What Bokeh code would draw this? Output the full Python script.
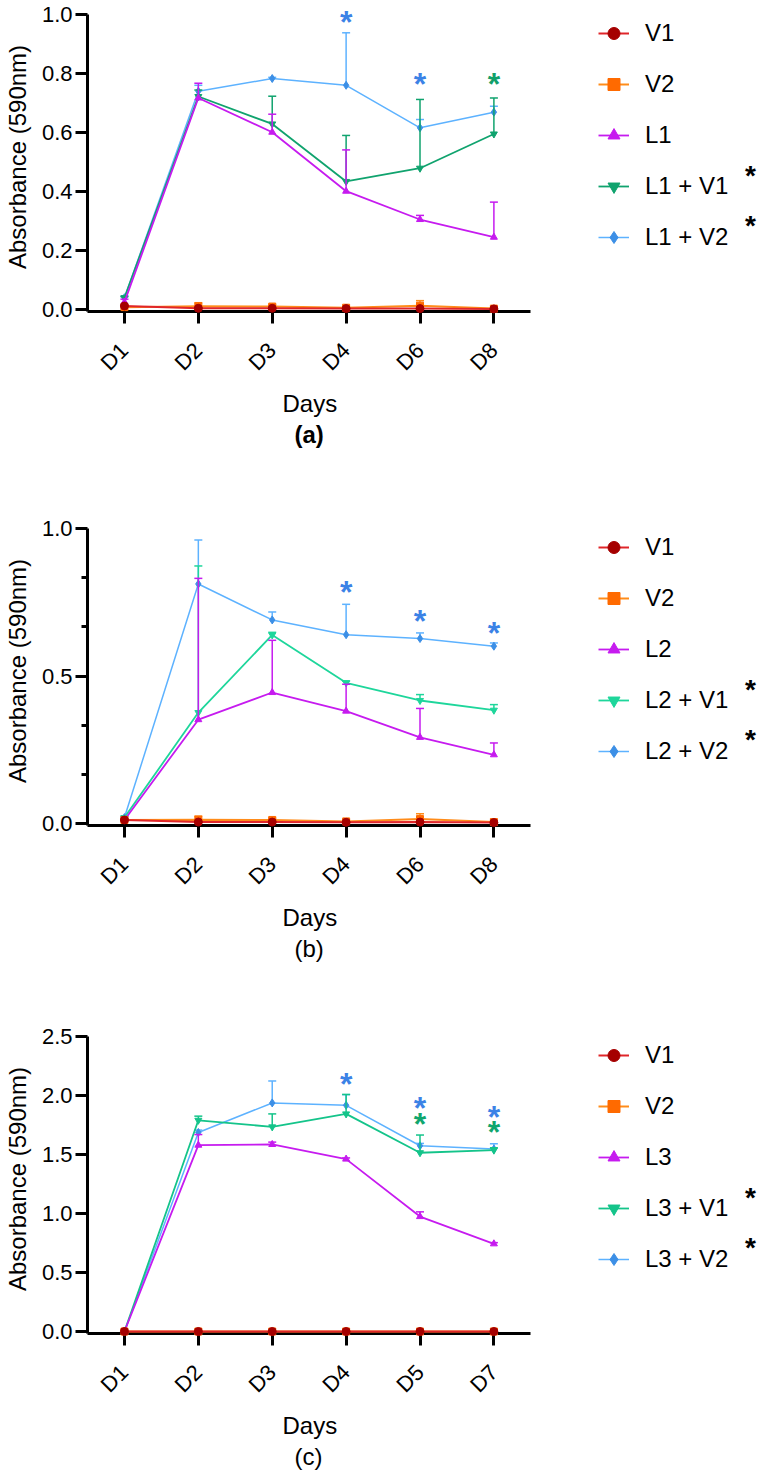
import math
from bokeh.plotting import figure
from bokeh.layouts import column
from bokeh.models import Range1d, FixedTicker, NumeralTickFormatter, Legend, LegendItem, Title, Label
from bokeh.core.properties import value
from bokeh.embed import file_html
from bokeh.resources import INLINE

FONT = "Liberation Sans"

# ---------------- data: panel (a) ----------------
days_a = ["D1", "D2", "D3", "D4", "D6", "D8"]
a_v1 = [0.012, 0.004, 0.004, 0.003, 0.003, 0.002]
a_v1_err = [0.002, 0.002, 0.002, 0.002, 0.002, 0.001]
a_v2 = [0.008, 0.011, 0.010, 0.006, 0.013, 0.003]
a_v2_err = [0.004, 0.012, 0.006, 0.004, 0.017, 0.002]
a_l = [0.025, 0.717, 0.601, 0.401, 0.305, 0.245]
a_l_err = [0.010, 0.050, 0.061, 0.140, 0.014, 0.119]
a_lv1 = [0.040, 0.722, 0.629, 0.434, 0.479, 0.595]
a_lv1_err = [0.004, 0.022, 0.094, 0.156, 0.233, 0.122]
a_lv2 = [0.040, 0.740, 0.783, 0.760, 0.616, 0.669]
a_lv2_err = [0.004, 0.020, 0.004, 0.178, 0.028, 0.020]
a_sig_days = ["D4", "D6", "D8"]
a_sig_y = [0.990, 0.782, 0.782]
a_sig_group = ["lv2", "lv2", "lv1"]
a_labels = ["V1", "V2", "L1", "L1 + V1", "L1 + V2"]

# ---------------- data: panel (b) ----------------
days_b = ["D1", "D2", "D3", "D4", "D6", "D8"]
b_v1 = [0.012, 0.005, 0.005, 0.004, 0.005, 0.003]
b_v1_err = [0.002, 0.002, 0.002, 0.002, 0.002, 0.001]
b_v2 = [0.012, 0.013, 0.012, 0.007, 0.015, 0.005]
b_v2_err = [0.003, 0.012, 0.006, 0.004, 0.018, 0.003]
b_l = [0.012, 0.352, 0.444, 0.381, 0.292, 0.233]
b_l_err = [0.005, 0.479, 0.177, 0.091, 0.098, 0.040]
b_lv1 = [0.020, 0.376, 0.639, 0.477, 0.417, 0.384]
b_lv1_err = [0.004, 0.497, 0.009, 0.006, 0.020, 0.019]
b_lv2 = [0.020, 0.812, 0.690, 0.640, 0.627, 0.601]
b_lv2_err = [0.004, 0.149, 0.027, 0.103, 0.019, 0.011]
b_sig_days = ["D4", "D6", "D8"]
b_sig_y = [0.803, 0.703, 0.663]
b_sig_group = ["lv2", "lv2", "lv2"]
b_labels = ["V1", "V2", "L2", "L2 + V1", "L2 + V2"]

# ---------------- data: panel (c) ----------------
days_c = ["D1", "D2", "D3", "D4", "D5", "D7"]
c_v1 = [0.0, 0.0, 0.0, 0.0, 0.0, 0.0]
c_v1_err = [0.0, 0.0, 0.0, 0.0, 0.0, 0.0]
c_v2 = [0.0, 0.0, 0.0, 0.0, 0.0, 0.0]
c_v2_err = [0.0, 0.0, 0.0, 0.0, 0.0, 0.0]
c_l = [0.0, 1.579, 1.585, 1.461, 0.974, 0.743]
c_l_err = [0.0, 0.090, 0.020, 0.010, 0.040, 0.010]
c_lv1 = [0.0, 1.790, 1.734, 1.844, 1.515, 1.537]
c_lv1_err = [0.0, 0.035, 0.110, 0.165, 0.150, 0.020]
c_lv2 = [0.0, 1.687, 1.937, 1.917, 1.574, 1.546]
c_lv2_err = [0.0, 0.020, 0.186, 0.090, 0.020, 0.045]
c_sig_days = ["D4", "D5", "D5", "D7", "D7"]
c_sig_y = [2.140, 1.940, 1.805, 1.856, 1.730]
c_sig_group = ["lv2", "lv2", "lv1", "lv2", "lv1"]
c_labels = ["V1", "V2", "L3", "L3 + V1", "L3 + V2"]

# ---------------- styles ----------------
V1_LINE, V1_MARK = "#E0262A", "#A50000"
V2_LINE, V2_MARK = "#FF8C1A", "#FF6A00"
L_COL = "#C61BEF"
LV2_LINE, LV2_MARK = "#5DB2FF", "#3C8FE6"
SIG_BLUE = "#3B82E6"

PX_UNIT = 74.0  # horizontal pixels per day slot


def make_panel(days, ymax, yticks, minor, data, labels, sig, lv1_col, sig_green,
               caption, cap_bold, height):
    F = 309
    s = (F - 14) / ymax
    lo = -2 / s
    hi = ymax + 12 / s
    xpos = list(range(1, len(days) + 1))
    pos = dict(zip(days, xpos))
    x_end = 0.5 + (761 - 86) / PX_UNIT
    p = figure(width=761, height=height, x_range=Range1d(0.5, x_end),
               y_range=Range1d(lo, hi), output_backend="svg", toolbar_location=None,
               min_border_left=86, min_border_right=0, min_border_top=2,
               min_border_bottom=height - 2 - F)
    p.outline_line_color = None
    p.grid.visible = False
    p.background_fill_color = "white"
    p.border_fill_color = "white"

    zero_px = 2 + F - 2

    def ydat(py):
        return (zero_px - py) / s

    def xdat(px):
        return 0.5 + (px - 86) / PX_UNIT

    specs = [
        ("v1", V1_LINE, V1_MARK, "circle", 8, 2.0),
        ("v2", V2_LINE, V2_MARK, "square", 7, 2.0),
        ("l", L_COL, L_COL, "triangle", 7, 1.8),
        ("lv1", lv1_col, lv1_col, "inverted_triangle", 7, 1.8),
        ("lv2", LV2_LINE, LV2_MARK, "diamond", 8, 1.5),
    ]
    items = {}
    for key, lc, mc, mk, ms, lw in reversed(specs):
        vals, errs = data[key]
        xs_e = [pos[d] for d, e in zip(days, errs) if e > 0]
        y0s = [v for v, e in zip(vals, errs) if e > 0]
        y1s = [v + e for v, e in zip(vals, errs) if e > 0]
        if xs_e:
            p.segment(x0=xs_e, y0=y0s, x1=xs_e, y1=y1s, line_color=lc, line_width=1.5, level="annotation")
            p.scatter(x=xs_e, y=y1s, marker="dash", size=8, line_color=lc, line_width=1.5, level="annotation")
        lr = p.line(x=xpos, y=vals, line_color=lc, line_width=lw, level="annotation")
        mr = p.scatter(x=xpos, y=vals, marker=mk, size=ms, fill_color=mc, line_color=mc, level="annotation")
        items[key] = [lr, mr]

    # significance asterisks
    sig_days, sig_y, sig_grp = sig
    cols = [SIG_BLUE if g == "lv2" else sig_green for g in sig_grp]
    p.text(x=[pos[d] for d in sig_days], y=sig_y, text=["*"] * len(sig_days), text_color=cols,
           text_font=value(FONT), text_font_style="bold", text_font_size="32px",
           text_align="center", text_baseline="middle", y_offset=5, level="annotation")

    legend = Legend(items=[LegendItem(label=lab, renderers=items[k[0]])
                           for lab, k in zip(labels, specs)],
                    location=(597 - 86, F + 2 - 18 - 234), padding=0, margin=0, spacing=21,
                    glyph_height=30, label_height=30, glyph_width=31, label_standoff=16,
                    border_line_color=None, background_fill_alpha=0, label_text_font=FONT,
                    label_text_font_size="24px", label_text_color="black")
    p.add_layout(legend)

    for py in (175, 225):
        p.add_layout(Label(x=xdat(750), y=ydat(py), text="*", text_font=FONT, text_font_style="bold",
                           text_font_size="28px", text_align="center", text_baseline="middle",
                           text_color="black"))

    # axes
    for ax in (p.xaxis[0], p.yaxis[0]):
        ax.axis_line_width = 3
        ax.axis_line_color = "black"
        ax.major_tick_line_width = 3
        ax.major_tick_line_color = "black"
        ax.major_tick_in = 0
        ax.major_tick_out = 12
        ax.minor_tick_line_color = None
        ax.major_label_text_font = FONT
        ax.major_label_text_font_size = "22px"
        ax.major_label_text_color = "black"
        ax.axis_label_text_font = FONT
        ax.axis_label_text_font_size = "24px"
        ax.axis_label_text_font_style = "normal"
        ax.axis_label_text_color = "black"
    xa = p.xaxis[0]
    xa.ticker = FixedTicker(ticks=xpos)
    xa.major_label_overrides = {k: v for k, v in zip(xpos, days)}
    xa.bounds = (0.5, len(days) + 0.5)
    xa.major_label_orientation = math.pi / 4
    xa.major_label_standoff = 23
    ya = p.yaxis[0]
    ya.axis_label = "Absorbance (590nm)"
    ya.ticker = FixedTicker(ticks=yticks, minor_ticks=minor)
    ya.bounds = (lo, ymax)
    ya.formatter = NumeralTickFormatter(format="0.0")
    ya.major_label_standoff = 3
    ya.axis_label_standoff = 8
    if minor:
        ya.minor_tick_line_width = 3
        ya.minor_tick_line_color = "black"
        ya.minor_tick_in = 0
        ya.minor_tick_out = 6

    # x-axis title and panel caption, centred under the axis (x = 308 px)
    p.add_layout(Title(text="Days", align="left", offset=195, text_font=FONT, text_font_size="24px",
                       text_font_style="normal", text_color="black", standoff=0), "below")
    p.add_layout(Title(text="(" + caption + ")", align="left", offset=207, text_font=FONT,
                       text_font_size="24px", text_font_style="bold" if cap_bold else "normal",
                       text_color="black", standoff=5), "below")
    return p


pa = make_panel(days_a, 1.0, [0.0, 0.2, 0.4, 0.6, 0.8, 1.0], [],
                {"v1": (a_v1, a_v1_err), "v2": (a_v2, a_v2_err), "l": (a_l, a_l_err),
                 "lv1": (a_lv1, a_lv1_err), "lv2": (a_lv2, a_lv2_err)},
                a_labels, (a_sig_days, a_sig_y, a_sig_group), "#10A36E", "#12A06A", "a", True, 514)
pb = make_panel(days_b, 1.0, [0.0, 0.5, 1.0], [1 / 6, 2 / 6, 4 / 6, 5 / 6],
                {"v1": (b_v1, b_v1_err), "v2": (b_v2, b_v2_err), "l": (b_l, b_l_err),
                 "lv1": (b_lv1, b_lv1_err), "lv2": (b_lv2, b_lv2_err)},
                b_labels, (b_sig_days, b_sig_y, b_sig_group), "#1ED69B", "#12A06A", "b", False, 508)
pc = make_panel(days_c, 2.5, [0.0, 0.5, 1.0, 1.5, 2.0, 2.5], [],
                {"v1": (c_v1, c_v1_err), "v2": (c_v2, c_v2_err), "l": (c_l, c_l_err),
                 "lv1": (c_lv1, c_lv1_err), "lv2": (c_lv2, c_lv2_err)},
                c_labels, (c_sig_days, c_sig_y, c_sig_group), "#14C48A", "#10A66E", "c", False, 455)

layout = column(pa, pb, pc, spacing=0)
open("out.html", "w").write(file_html(layout, INLINE))
